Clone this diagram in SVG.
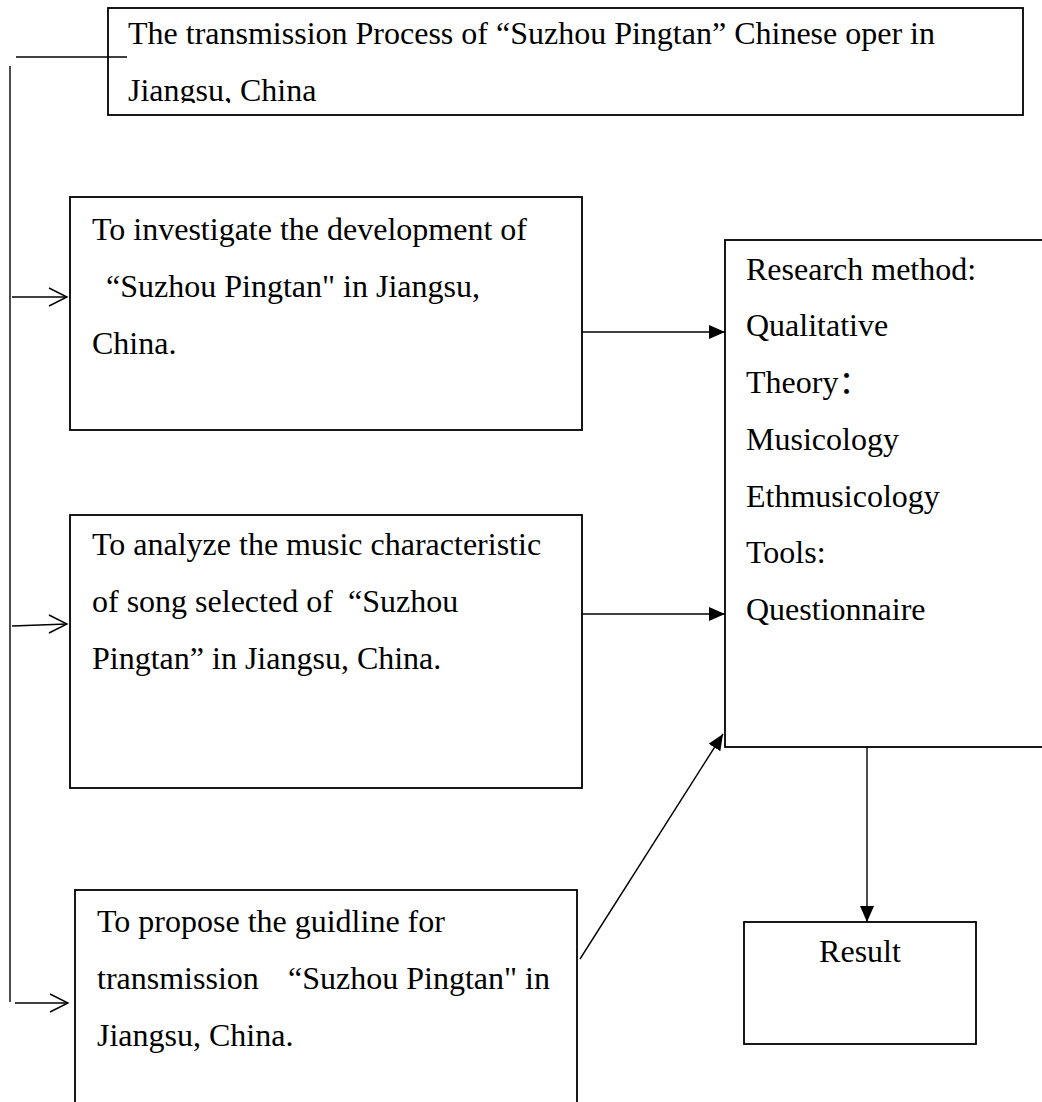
<svg xmlns="http://www.w3.org/2000/svg" width="1042" height="1102" viewBox="0 0 1042 1102">
<style>
.box{fill:#fff;stroke:#000;stroke-width:1.8}
.t{font-family:"Liberation Serif","Times New Roman","Noto Sans CJK SC",serif;font-size:32px;fill:#000}
.ln{fill:none;stroke:#000;stroke-width:1.4}
.open{fill:none;stroke:#000;stroke-width:1.4}
</style>
<defs>
<marker id="fill" viewBox="0 0 16 14" refX="16" refY="7" markerWidth="16" markerHeight="14" markerUnits="userSpaceOnUse" orient="auto">
<path d="M0,0 L16,7 L0,14 Z" fill="#000"/>
</marker>
<clipPath id="titleclip"><rect x="108" y="8" width="915" height="95"/></clipPath>
</defs>
<rect width="1042" height="1102" fill="#fff"/>

<g id="title">
<rect class="box" x="108" y="8" width="915" height="107"/>
<g clip-path="url(#titleclip)">
<text class="t" x="128" y="44">The transmission Process of “Suzhou Pingtan” Chinese oper in</text>
<text class="t" x="128" y="101">Jiangsu, China</text>
</g>
</g>

<g id="obj1">
<rect class="box" x="70" y="197" width="512" height="233"/>
<text class="t" x="92" y="240">To investigate the development of</text>
<text class="t" x="106" y="297">“Suzhou Pingtan" in Jiangsu,</text>
<text class="t" x="92" y="354">China.</text>
</g>

<g id="obj2">
<rect class="box" x="70" y="515" width="512" height="273"/>
<text class="t" x="92" y="555">To analyze the music characteristic</text>
<text class="t" x="92" y="612">of song selected of<tspan x="348">“Suzhou</tspan></text>
<text class="t" x="92" y="669">Pingtan” in Jiangsu, China.</text>
</g>

<g id="obj3">
<rect class="box" x="75" y="890" width="502" height="230"/>
<text class="t" x="97" y="932">To propose the guidline for</text>
<text class="t" x="97" y="989">transmission<tspan x="288">“Suzhou Pingtan" in</tspan></text>
<text class="t" x="97" y="1046">Jiangsu, China.</text>
</g>

<g id="method">
<rect class="box" x="725" y="240" width="330" height="507"/>
<text class="t" x="746" y="280">Research method:</text>
<text class="t" x="746" y="336">Qualitative</text>
<text class="t" x="746" y="393">Theory：</text>
<text class="t" x="746" y="450">Musicology</text>
<text class="t" x="746" y="507">Ethmusicology</text>
<text class="t" x="746" y="563">Tools:</text>
<text class="t" x="746" y="620">Questionnaire</text>
</g>

<g id="result">
<rect class="box" x="744" y="922" width="232" height="122"/>
<text class="t" x="860" y="962" text-anchor="middle">Result</text>
</g>

<g id="connectors">
<line class="ln" x1="10" y1="66" x2="10" y2="1002"/>
<line class="ln" x1="16" y1="57" x2="127" y2="57"/>
<line class="ln" x1="12" y1="297" x2="67" y2="297"/>
<polyline class="open" points="49,288 67,297 49,306"/>
<line class="ln" x1="12" y1="626" x2="67" y2="624"/>
<polyline class="open" points="49,615 67,624 49,633"/>
<line class="ln" x1="15" y1="1003" x2="68" y2="1003"/>
<polyline class="open" points="50,994 68,1003 50,1012"/>
<line class="ln" x1="582" y1="332" x2="725" y2="332" marker-end="url(#fill)"/>
<line class="ln" x1="582" y1="614" x2="725" y2="614" marker-end="url(#fill)"/>
<line class="ln" x1="580" y1="959" x2="723" y2="734" marker-end="url(#fill)"/>
<line class="ln" x1="867" y1="747" x2="867" y2="922" marker-end="url(#fill)"/>
</g>
</svg>
